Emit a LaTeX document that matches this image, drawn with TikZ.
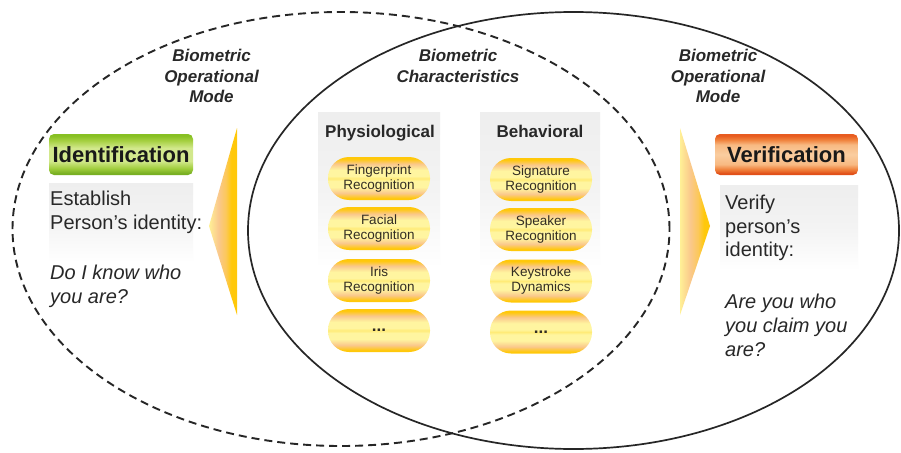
\documentclass[tikz,border=0pt]{standalone}
\usepackage{fontspec}
\setmainfont{Liberation Sans}
\usetikzlibrary{shapes.geometric}
\definecolor{txt}{RGB}{40,40,40}
\definecolor{pilltxt}{RGB}{50,45,35}
\definecolor{gold}{RGB}{255,200,10}
\definecolor{peach}{RGB}{250,200,140}
\definecolor{ltyel}{RGB}{255,245,160}
\definecolor{midyel}{RGB}{255,235,120}
\definecolor{paneltop}{RGB}{238,238,238}
\definecolor{gA}{RGB}{115,170,30}
\definecolor{gB}{RGB}{120,175,35}
\definecolor{gC}{RGB}{160,205,60}
\definecolor{gD}{RGB}{210,232,140}
\definecolor{gE}{RGB}{165,208,65}
\definecolor{gF}{RGB}{135,192,35}
\definecolor{oA}{RGB}{225,80,25}
\definecolor{oB}{RGB}{240,130,60}
\definecolor{oC}{RGB}{248,185,130}
\definecolor{oD}{RGB}{250,205,160}
\definecolor{oE}{RGB}{232,92,32}
\definecolor{tA}{RGB}{255,240,150}
\definecolor{tB}{RGB}{252,200,90}
\pgfdeclareverticalshading{pillshade}{100bp}{%
  color(0bp)=(gold); color(27bp)=(gold); color(33bp)=(peach);
  color(40bp)=(ltyel); color(47bp)=(ltyel); color(50bp)=(midyel);
  color(53bp)=(ltyel); color(60bp)=(ltyel); color(67bp)=(peach);
  color(73bp)=(gold); color(100bp)=(gold)}
\pgfdeclareverticalshading{idshade}{100bp}{%
  color(0bp)=(gA); color(27bp)=(gB);
  color(33bp)=(gC); color(42bp)=(gD);
  color(58bp)=(gD); color(67bp)=(gE);
  color(73bp)=(gF); color(100bp)=(gF)}
\pgfdeclareverticalshading{vershade}{100bp}{%
  color(0bp)=(oA); color(27bp)=(oA);
  color(32bp)=(oB); color(38bp)=(oC);
  color(50bp)=(oD); color(62bp)=(oC);
  color(68bp)=(oB); color(73bp)=(oE);
  color(100bp)=(oE)}
\pgfdeclarehorizontalshading{trishade}{100bp}{%
  color(0bp)=(tA); color(25bp)=(tA);
  color(42bp)=(peach); color(55bp)=(tB);
  color(65bp)=(gold); color(100bp)=(gold)}
\tikzset{
  opl/.style={ellipse, draw=black!85, line width=1.9pt, inner sep=0pt},
  lbl/.style={font=\fontsize{17}{20}\selectfont\bfseries\itshape, text=txt, align=center, inner sep=0pt},
  title/.style={font=\fontsize{17}{20}\selectfont\bfseries, text=txt, inner sep=0pt},
  pill/.style={shading=pillshade, rounded corners=21pt, minimum width=102pt, minimum height=43pt,
    inner sep=0pt, align=center, text=pilltxt, font=\fontsize{13.5}{15}\selectfont},
  panel/.style={top color=paneltop, bottom color=white, middle color=paneltop!70, inner sep=0pt},
  modebox/.style={rounded corners=5pt, minimum width=144pt, minimum height=41pt, inner sep=0pt,
    font=\fontsize{22}{24}\selectfont\bfseries, text=black!90},
  body/.style={font=\fontsize{20}{24}\selectfont, text=txt, inner sep=0pt, anchor=base west},
  bodyit/.style={body, font=\fontsize{20}{24}\selectfont\itshape}
}
\begin{document}
\begin{tikzpicture}[x=1pt,y=-1pt]
\useasboundingbox[fill=white] (0,0) rectangle (901,452);

% grey panels
\path[panel] (49,183) rectangle (193,262);
\path[panel] (720,185) rectangle (858,270);
\path[panel] (318,112) rectangle (440,268);
\path[panel] (480,112) rectangle (600,268);

% wedges
\shade[shading=trishade] (237,128) -- (209,226) -- (237,315) -- cycle;
\shade[shading=trishade] (680,128) -- (710,226) -- (680,315) -- cycle;

% ellipses
\node[opl, dash pattern=on 8pt off 5pt, minimum width=657pt, minimum height=434pt] (opmode) at (341,229) {};
\node[opl, line width=1.7pt, minimum width=651pt, minimum height=437pt] (charac) at (573.5,230.5) {};

% top labels
\node[lbl] (lblL1) at (211.5,62) [anchor=base] {Biometric};
\node[lbl] (lblL2) at (211.5,82) [anchor=base] {Operational};
\node[lbl] (lblL3) at (211.5,102) [anchor=base] {Mode};
\node[lbl] (lblC1) at (458,62) [anchor=base] {Biometric};
\node[lbl] (lblC2) at (458,82) [anchor=base] {Characteristics};
\node[lbl] (lblR1) at (718,62) [anchor=base] {Biometric};
\node[lbl] (lblR2) at (718,82) [anchor=base] {Operational};
\node[lbl] (lblR3) at (718,102) [anchor=base] {Mode};

% mode boxes
\node[modebox, shading=idshade] (ident) at (121,154.5) {Identification};
\node[modebox, shading=vershade, minimum width=143pt] (verif) at (786.5,154.5) {Verification};

% identification text
\node[body] (id1) at (50,205) {Establish};
\node[body] (id2) at (50,229) {Person’s identity:};
\node[bodyit] (id3) at (50,279) {Do I know who};
\node[bodyit] (id4) at (50,303) {you are?};

% verification text
\node[body] (ve1) at (725,209) {Verify};
\node[body] (ve2) at (725,233) {person’s};
\node[body] (ve3) at (725,256) {identity:};
\node[bodyit] (ve4) at (725,308) {Are you who};
\node[bodyit] (ve5) at (725,332) {you claim you};
\node[bodyit] (ve6) at (725,356) {are?};

% columns
\node[title, anchor=base] (phys) at (380,137) {Physiological};
\node[title, anchor=base] (behav) at (540,137) {Behavioral};

\node[pill] (p1) at (379,178.5) {Fingerprint\\Recognition};
\node[pill] (p2) at (379,228.5) {Facial\\Recognition};
\node[pill] (p3) at (379,280.5) {Iris\\Recognition};
\node[pill, font=\fontsize{17}{18}\selectfont\bfseries] (p4) at (379,330.5) {...};

\node[pill] (b1) at (541,179.5) {Signature\\Recognition};
\node[pill] (b2) at (541,229.5) {Speaker\\Recognition};
\node[pill] (b3) at (541,281) {Keystroke\\Dynamics};
\node[pill, font=\fontsize{17}{18}\selectfont\bfseries] (b4) at (541,332) {...};
\end{tikzpicture}
\end{document}
